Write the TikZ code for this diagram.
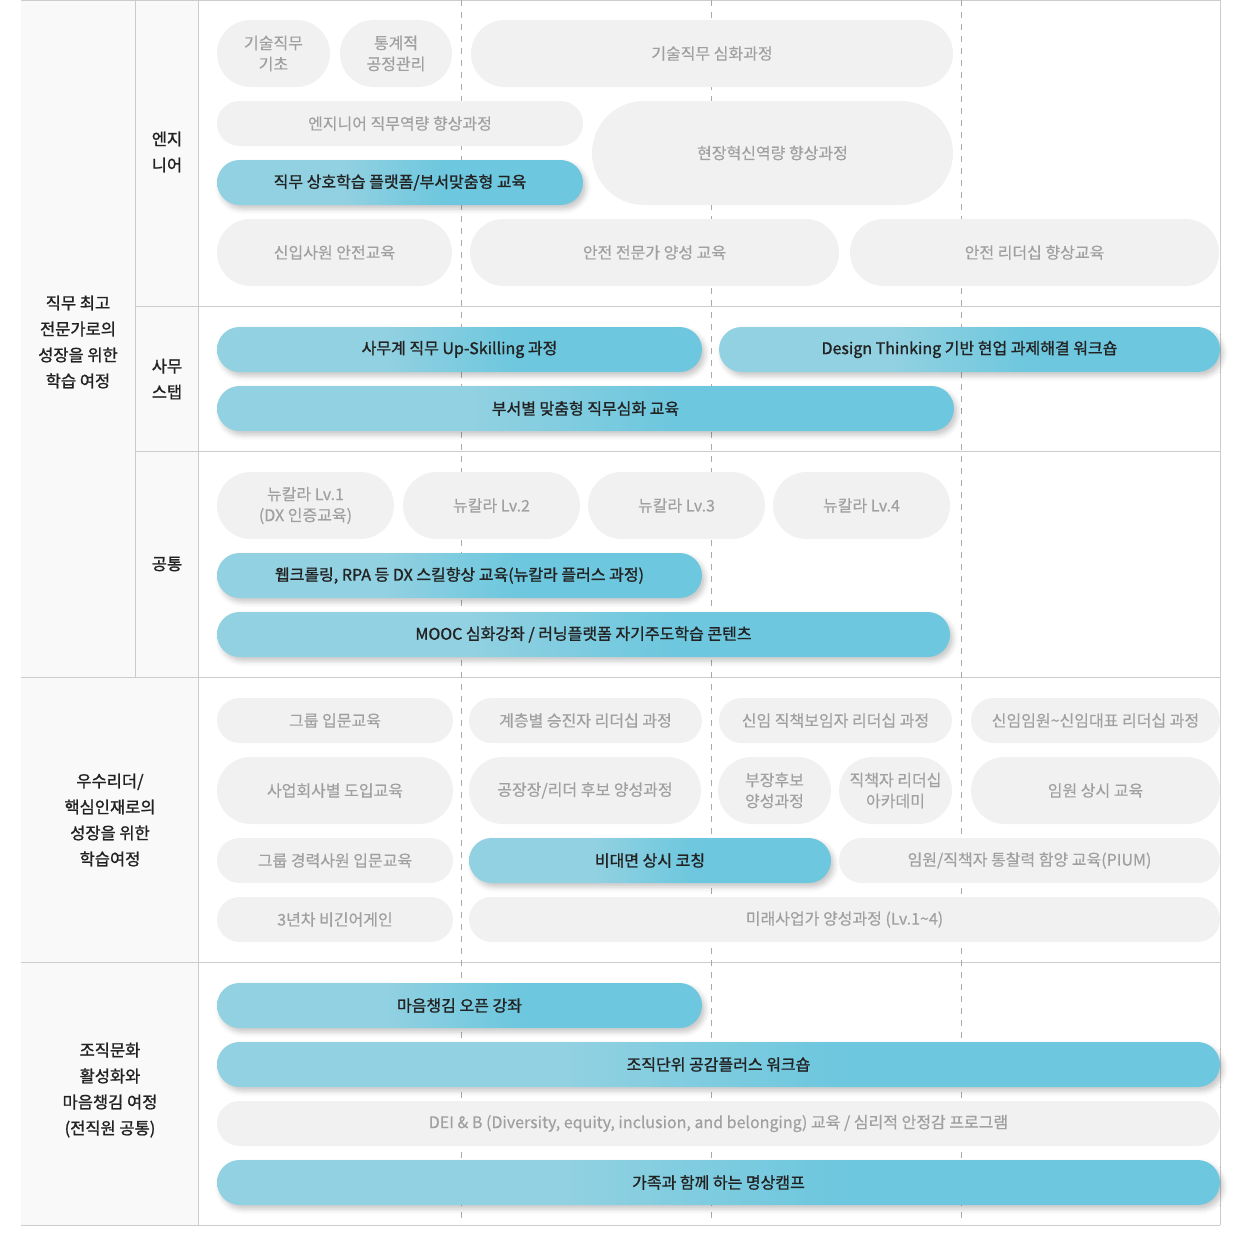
\documentclass[tikz,border=0pt]{standalone}
\usepackage{fontspec}
\setmainfont{Noto Sans CJK KR}
\newfontfamily\krmedium{Noto Sans CJK KR}[FakeBold=1.2]
\newfontfamily\krlight{Noto Sans CJK KR}[FakeBold=0.4]
\usepackage{tikz}
\usetikzlibrary{shapes.misc, shadows.blur}

\definecolor{lineGray}{HTML}{CCCCCC}
\definecolor{dashGray}{HTML}{AAAAAA}
\definecolor{sideFill}{HTML}{F9F9F9}
\definecolor{pillGray}{HTML}{F1F1F1}
\definecolor{pillText}{HTML}{A0A0A0}
\definecolor{blueLight}{HTML}{92D1E1}
\definecolor{blueDark}{HTML}{6DC7DE}
\definecolor{labelText}{HTML}{222222}

\pgfdeclarehorizontalshading{pillshade}{100bp}{color(0bp)=(blueLight); color(25bp)=(blueLight); color(42bp)=(blueLight); color(56bp)=(blueDark); color(100bp)=(blueDark)}

\begin{document}
\begin{tikzpicture}[
        x=1pt, y=-1pt,
        pill/.style={
            rounded rectangle,
            inner sep=0pt,
            align=center
        },
        graypill/.style={
            pill,
            fill=pillGray,
            text=pillText,
            font=\krlight\fontsize{16pt}{21pt}\selectfont
        },
        bluepill/.style={
            pill,
            shading=pillshade,
            text=labelText,
            font=\krmedium\fontsize{16pt}{21pt}\selectfont,
            blur shadow={shadow xshift=3pt, shadow yshift=-4pt,
                shadow blur radius=5pt, shadow opacity=22}
        },
        wh/.style 2 args={
            minimum width=#1pt,
            minimum height=#2pt
        },
        sidelabel/.style={
            align=center,
            text=labelText,
            font=\krmedium\fontsize{16.5pt}{26pt}\selectfont
        },
        gridline/.style={
            lineGray,
            line width=1pt
        },
        guide/.style={
            dashGray,
            line width=0.8pt,
            dash pattern=on 6pt off 6pt
        }
    ]

    \useasboundingbox (0,0) rectangle (1240,1247);

    % --------------------------------------------------------
    % Table frame
    % --------------------------------------------------------

    \fill[sideFill] (21,0) rectangle (198,1225);

    \draw[gridline] (21,0.5) -- (1220,0.5);
    \draw[gridline] (135,0) -- (135,677);
    \draw[gridline] (198,0) -- (198,1225);
    \draw[gridline] (1220,0) -- (1220,1225);

    \draw[gridline] (135,306) -- (1220,306);
    \draw[gridline] (135,451) -- (1220,451);
    \draw[gridline] (21,677) -- (1220,677);
    \draw[gridline] (21,962) -- (1220,962);
    \draw[gridline] (21,1225) -- (1220,1225);

    % stage guides
    \draw[guide] (461,0) -- (461,1222);
    \draw[guide] (711,0) -- (711,1222);
    \draw[guide] (961,0) -- (961,1222);

    % --------------------------------------------------------
    % Row headers
    % --------------------------------------------------------

    \node[sidelabel] (expertJourney) at (78,342)
        {직무 최고\\전문가로의\\성장을 위한\\학습 여정};

    \node[sidelabel] (engineer) at (167,152)
        {엔지\\니어};

    \node[sidelabel] (office) at (167,379)
        {사무\\스탭};

    \node[sidelabel] (common) at (167,564)
        {공통};

    \node[sidelabel] (leaderJourney) at (110,820)
        {우수리더/\\핵심인재로의\\성장을 위한\\학습여정};

    \node[sidelabel] (cultureJourney) at (110,1090)
        {조직문화\\활성화와\\마음챙김 여정\\(전직원 공통)};

    % --------------------------------------------------------
    % Engineer track
    % --------------------------------------------------------

    \node[graypill, wh={113}{67}] (techBasic) at (273.5,53.5)
        {기술직무\\기초};

    \node[graypill, wh={112}{67}] (spcBasic) at (396,53.5)
        {통계적\\공정관리};

    \node[graypill, wh={482}{67}] (techAdv) at (712,53.5)
        {기술직무 심화과정};

    \node[graypill, wh={366}{45}] (engCompetency) at (400,123.5)
        {엔지니어 직무역량 향상과정};

    \node[graypill, wh={361}{104}] (siteInnovation) at (772.5,153)
        {현장혁신역량 향상과정};

    \node[bluepill, wh={366}{45}] (mutualLearning) at (400,182.5)
        {직무 상호학습 플랫폼/부서맞춤형 교육};

    \node[graypill, wh={235}{67}] (safetyNew) at (334.5,252.5)
        {신입사원 안전교육};

    \node[graypill, wh={369}{67}] (safetyExpert) at (654.5,252.5)
        {안전 전문가 양성 교육};

    \node[graypill, wh={369}{67}] (safetyLeader) at (1034.5,252.5)
        {안전 리더십 향상교육};

    % --------------------------------------------------------
    % Office staff track
    % --------------------------------------------------------

    \node[bluepill, wh={485}{45}] (upSkilling) at (459.5,349.5)
        {사무계 직무 Up-Skilling 과정};

    \node[bluepill, wh={501}{45}] (designThinking) at (969.5,349.5)
        {Design Thinking 기반 현업 과제해결 워크숍};

    \node[bluepill, wh={737}{45}] (deptCustom) at (585.5,408.5)
        {부서별 맞춤형 직무심화 교육};

    % --------------------------------------------------------
    % Common track
    % --------------------------------------------------------

    \node[graypill, wh={177}{67}] (newCollar1) at (305.5,505.5)
        {뉴칼라 Lv.1\\(DX 인증교육)};

    \node[graypill, wh={177}{67}] (newCollar2) at (491.5,505.5)
        {뉴칼라 Lv.2};

    \node[graypill, wh={177}{67}] (newCollar3) at (676.5,505.5)
        {뉴칼라 Lv.3};

    \node[graypill, wh={177}{67}] (newCollar4) at (861.5,505.5)
        {뉴칼라 Lv.4};

    \node[bluepill, wh={485}{45}] (dxSkill) at (459.5,575.5)
        {웹크롤링, RPA 등 DX 스킬향상 교육(뉴칼라 플러스 과정)};

    \node[bluepill, wh={733}{45}] (moocCourse) at (583.5,634.5)
        {MOOC 심화강좌 / 러닝플랫폼 자기주도학습 콘텐츠};

    % --------------------------------------------------------
    % Leader / key talent journey
    % --------------------------------------------------------

    \node[graypill, wh={236}{45}] (groupIntro) at (335,720.5)
        {그룹 입문교육};

    \node[graypill, wh={233}{45}] (promoLeader) at (585.5,720.5)
        {계층별 승진자 리더십 과정};

    \node[graypill, wh={233}{45}] (newPosition) at (835.5,720.5)
        {신임 직책보임자 리더십 과정};

    \node[graypill, wh={249}{45}] (newExec) at (1095.5,720.5)
        {신임임원\textasciitilde 신임대표 리더십 과정};

    \node[graypill, wh={236}{67}] (affiliateIntro) at (335,790.5)
        {사업회사별 도입교육};

    \node[graypill, wh={232}{67}] (plantLeader) at (585,790.5)
        {공장장/리더 후보 양성과정};

    \node[graypill, wh={113}{67}] (deputyCandidate) at (774.5,790.5)
        {부장후보\\양성과정};

    \node[graypill, wh={113}{67}] (leaderAcademy) at (895.5,790.5)
        {직책자 리더십\\아카데미};

    \node[graypill, wh={249}{67}] (execOngoing) at (1095.5,790.5)
        {임원 상시 교육};

    \node[graypill, wh={236}{45}] (careerIntro) at (335,860.5)
        {그룹 경력사원 입문교육};

    \node[bluepill, wh={362}{45}] (remoteCoach) at (650,860.5)
        {비대면 상시 코칭};

    \node[graypill, wh={381}{45}] (piumCourse) at (1029.5,860.5)
        {임원/직책자 통찰력 함양 교육(PIUM)};

    \node[graypill, wh={236}{45}] (beginAgain) at (335,919.5)
        {3년차 비긴어게인};

    \node[graypill, wh={751}{45}] (futureBiz) at (844.5,919.5)
        {미래사업가 양성과정 (Lv.1\textasciitilde 4)};

    % --------------------------------------------------------
    % Culture / mindfulness journey
    % --------------------------------------------------------

    \node[bluepill, wh={485}{45}] (mindOpen) at (459.5,1005.5)
        {마음챙김 오픈 강좌};

    \node[bluepill, wh={1003}{45}] (empathyPlus) at (718.5,1064.5)
        {조직단위 공감플러스 워크숍};

    \node[graypill, wh={1003}{45}] (deiProgram) at (718.5,1123.5)
        {DEI \& B (Diversity, equity, inclusion, and belonging) 교육 / 심리적 안정감 프로그램};

    \node[bluepill, wh={1003}{45}] (familyCamp) at (718.5,1182.5)
        {가족과 함께 하는 명상캠프};

\end{tikzpicture}
\end{document}
